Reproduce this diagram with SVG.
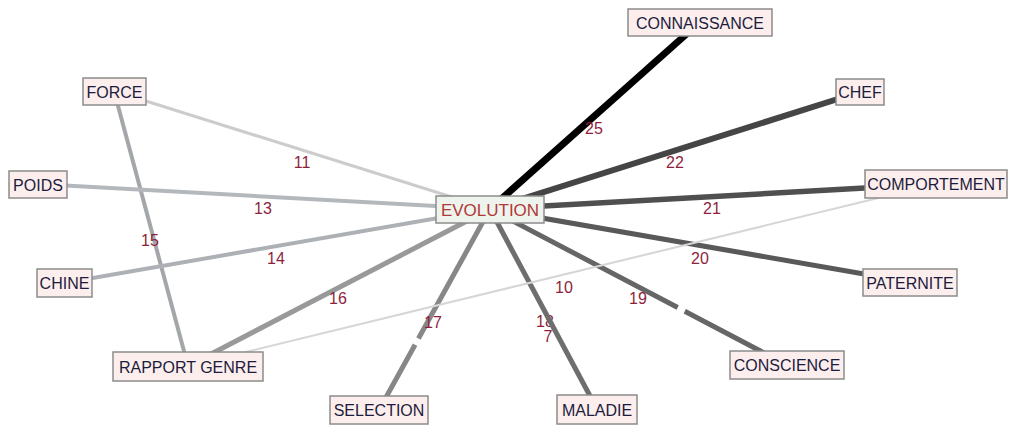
<svg xmlns="http://www.w3.org/2000/svg" width="1014" height="426" viewBox="0 0 1014 426">
<style>
.bg{fill:#ffffff}
.edge{fill:none;stroke-linecap:butt}
.box{fill:#fdeeee;stroke:#8c8c8c;stroke-width:1.5}
.cbox{fill:#eef3ee;stroke:#8c8c8c;stroke-width:1.5}
.t{font-family:"Liberation Sans",Arial,sans-serif;font-size:16px;fill:#1c1c3c;text-anchor:middle}
.ct{font-family:"Liberation Sans",Arial,sans-serif;font-size:17px;fill:#b03a36;text-anchor:middle}
.lbl{font-family:"Liberation Sans",Arial,sans-serif;font-size:16px;fill:#8e1f3c;text-anchor:middle}
</style>
<rect class="bg" x="0" y="0" width="1014" height="426"/>
<text class="lbl" x="545" y="327">18</text>
<g id="connectors">
<line class="edge" x1="490" y1="209" x2="700" y2="22" stroke="#000000" stroke-width="7"/>
<line class="edge" x1="490" y1="209" x2="860" y2="92" stroke="#454545" stroke-width="6"/>
<line class="edge" x1="490" y1="209" x2="936" y2="184" stroke="#4f4f4f" stroke-width="5.5"/>
<line class="edge" x1="490" y1="209" x2="910" y2="282" stroke="#595959" stroke-width="5"/>
<line class="edge" x1="490" y1="209" x2="787" y2="365" stroke="#666666" stroke-width="5" stroke-dasharray="212 8 1000"/>
<line class="edge" x1="490" y1="209" x2="597" y2="409" stroke="#6e6e6e" stroke-width="5"/>
<line class="edge" x1="490" y1="209" x2="379" y2="410" stroke="#878787" stroke-width="5" stroke-dasharray="148 7 1000"/>
<line class="edge" x1="490" y1="209" x2="188" y2="366" stroke="#999999" stroke-width="5"/>
<line class="edge" x1="114" y1="91" x2="188" y2="366" stroke="#a4a7aa" stroke-width="4"/>
<line class="edge" x1="490" y1="209" x2="64" y2="283" stroke="#adb1b5" stroke-width="4"/>
<line class="edge" x1="490" y1="209" x2="38" y2="184" stroke="#b4b8bc" stroke-width="4"/>
<line class="edge" x1="490" y1="209" x2="114" y2="91" stroke="#cccccc" stroke-width="3"/>
<line class="edge" x1="936" y1="184" x2="188" y2="366" stroke="#d6d6d6" stroke-width="2"/>
</g>
<g id="labels">
<text class="lbl" x="594" y="134">25</text>
<text class="lbl" x="675" y="168">22</text>
<text class="lbl" x="712" y="214">21</text>
<text class="lbl" x="700" y="264">20</text>
<text class="lbl" x="638" y="304">19</text>
<text class="lbl" x="564" y="293">10</text>
<text class="lbl" x="548" y="342">7</text>
<text class="lbl" x="433" y="328">17</text>
<text class="lbl" x="338" y="304">16</text>
<text class="lbl" x="150" y="246">15</text>
<text class="lbl" x="276" y="264">14</text>
<text class="lbl" x="263" y="214">13</text>
<text class="lbl" x="302" y="168">11</text>
</g>
<g id="node-connaissance"><rect class="box" x="628" y="9" width="144" height="27"/><text class="t" x="700" y="28.5">CONNAISSANCE</text></g>
<g id="node-chef"><rect class="box" x="836" y="79" width="48" height="26"/><text class="t" x="860" y="98">CHEF</text></g>
<g id="node-comportement"><rect class="box" x="865" y="170" width="142" height="28"/><text class="t" x="936" y="190">COMPORTEMENT</text></g>
<g id="node-paternite"><rect class="box" x="863" y="269" width="94" height="27"/><text class="t" x="910" y="288.5">PATERNITE</text></g>
<g id="node-conscience"><rect class="box" x="730" y="351" width="114" height="28"/><text class="t" x="787" y="371">CONSCIENCE</text></g>
<g id="node-maladie"><rect class="box" x="557" y="395" width="80" height="29"/><text class="t" x="597" y="415.5">MALADIE</text></g>
<g id="node-selection"><rect class="box" x="330" y="396" width="98" height="28"/><text class="t" x="379" y="416">SELECTION</text></g>
<g id="node-rapport-genre"><rect class="box" x="113" y="352" width="150" height="29"/><text class="t" x="188" y="372.5">RAPPORT GENRE</text></g>
<g id="node-chine"><rect class="box" x="37" y="269" width="55" height="28"/><text class="t" x="64.5" y="289">CHINE</text></g>
<g id="node-poids"><rect class="box" x="9" y="171" width="58" height="27"/><text class="t" x="38" y="190.5">POIDS</text></g>
<g id="node-force"><rect class="box" x="83" y="78" width="63" height="27"/><text class="t" x="114.5" y="97.5">FORCE</text></g>
<g id="node-evolution"><rect class="cbox" x="436" y="196" width="108" height="27"/><text class="ct" x="490" y="215.5">EVOLUTION</text></g>
</svg>
